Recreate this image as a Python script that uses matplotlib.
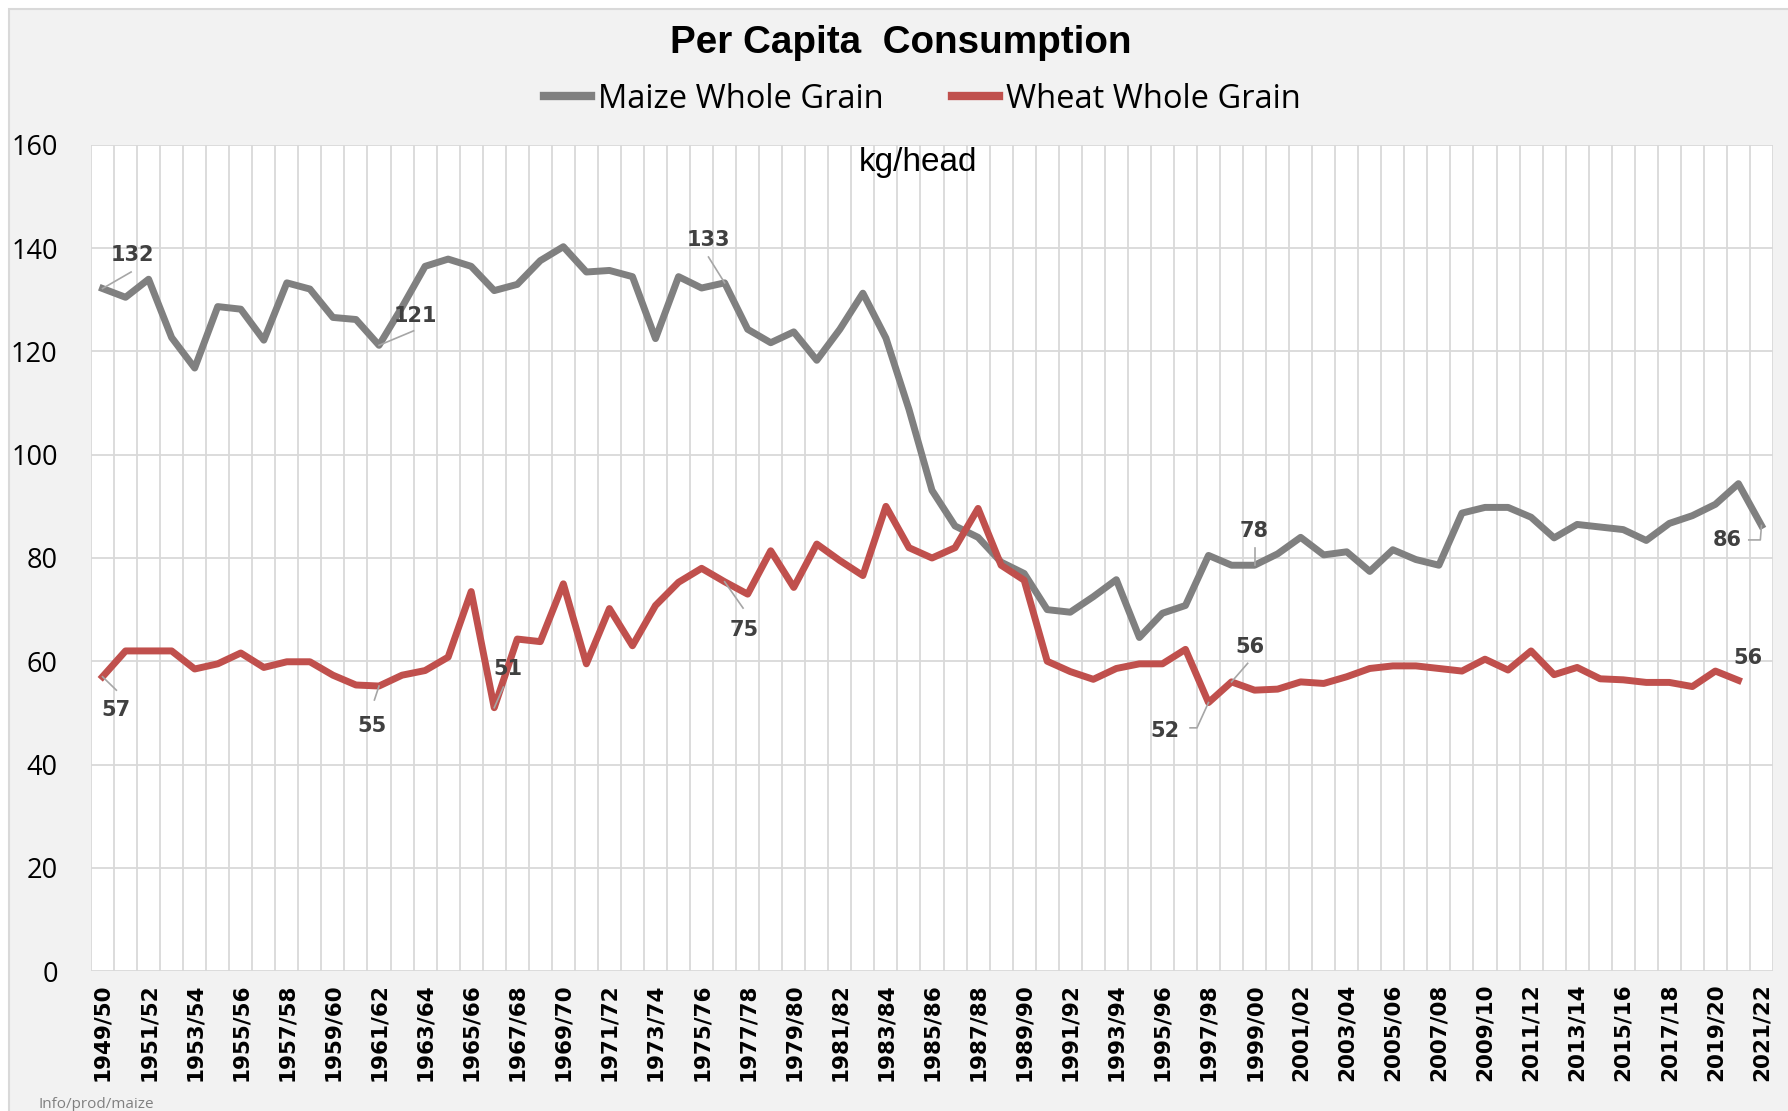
import matplotlib
matplotlib.use("Agg")
import matplotlib.pyplot as plt
from matplotlib.patches import Rectangle
from matplotlib.ticker import FixedLocator

# ---------------- data ----------------
seasons = [f"{y}/{(y + 1) % 100:02d}" for y in range(1949, 2022)]

maize = [132.2, 130.5, 134.0, 122.7, 116.8, 128.7, 128.2, 122.2, 133.3, 132.1,
         126.6, 126.2, 121.2, 128.6, 136.5, 137.9, 136.5, 131.8, 133.0, 137.6,
         140.3, 135.4, 135.7, 134.5, 122.5, 134.5, 132.3, 133.3, 124.3, 121.7,
         123.8, 118.3, 124.3, 131.3, 122.6, 108.8, 93.1, 86.2, 84.0, 79.2,
         77.0, 70.0, 69.5, 72.5, 75.8, 64.6, 69.3, 70.8, 80.5, 78.6,
         78.6, 80.8, 84.0, 80.6, 81.2, 77.4, 81.6, 79.7, 78.6, 88.7,
         89.8, 89.8, 87.9, 83.9, 86.5, 86.0, 85.5, 83.4, 86.7, 88.2,
         90.4, 94.4, 86.3]

wheat = [57.0, 62.0, 62.0, 62.0, 58.5, 59.5, 61.6, 58.8, 59.9, 59.9,
         57.3, 55.4, 55.2, 57.3, 58.2, 60.8, 73.5, 51.0, 64.3, 63.8,
         75.0, 59.5, 70.2, 63.0, 70.8, 75.3, 78.0, 75.4, 73.0, 81.4,
         74.3, 82.7, 79.5, 76.6, 90.0, 82.0, 80.0, 82.0, 89.6, 78.6,
         75.7, 60.0, 58.0, 56.5, 58.6, 59.5, 59.5, 62.3, 52.0, 56.0,
         54.4, 54.6, 56.0, 55.7, 57.0, 58.6, 59.1, 59.1, 58.6, 58.1,
         60.4, 58.3, 62.0, 57.4, 58.8, 56.6, 56.4, 55.9, 55.9, 55.1,
         58.1, 56.3]

series_names = ["Maize Whole Grain", "Wheat Whole Grain"]
y_ticks = [0, 20, 40, 60, 80, 100, 120, 140, 160]

# data labels: (index, text)
maize_labels = [(0, "132"), (12, "121"), (27, "133"), (50, "78"), (72, "86")]
wheat_labels = [(0, "57"), (12, "55"), (17, "51"), (27, "75"), (48, "52"), (49, "56"), (71, "56")]

# label text positions (index, value) and leader elbow points
maize_label_pos = {0: (1.28, 138.7), 12: (13.6, 126.9), 27: (26.3, 141.6), 50: (49.96, 85.2), 72: (70.5, 83.5)}
maize_leaders = {0: [(1.24, 135.4)], 12: [(13.5, 124.0)], 27: [(26.3, 138.3)], 50: [(50.0, 81.9)],
                 72: [(71.95, 83.5), (71.45, 83.5)]}
wheat_label_pos = {0: (0.59, 50.5), 12: (11.7, 47.4), 17: (17.6, 58.5), 27: (27.85, 66.0),
                   48: (46.1, 46.5), 49: (49.8, 62.8), 71: (71.4, 60.7)}
wheat_leaders = {0: [(0.6, 54.4)], 12: [(11.8, 52.5)], 17: [(17.4, 55.0)], 27: [(27.8, 70.3)],
                 48: [(47.5, 47.1), (47.2, 47.1)], 49: [(49.7, 59.6)], 71: []}

# ---------------- figure ----------------
W, H = 1788, 1111
fig = plt.figure(figsize=(W / 100, H / 100), dpi=100)
fig.patch.set_facecolor("white")
fig.patches.append(Rectangle((9 / W, -0.02), 1.05, 1 - 9 / H + 0.02, transform=fig.transFigure,
                             facecolor="#F2F2F2", edgecolor="#D9D9D9", linewidth=1.5, zorder=-10))

left, right, top, bottom = 91, 1773, 145, 971
ax = fig.add_axes([left / W, 1 - bottom / H, (right - left) / W, (bottom - top) / H])
ax.set_zorder(1)
ax.set_facecolor("white")

x = list(range(len(seasons)))
c_maize = "#808080"
c_wheat = "#C0504D"
lm, = ax.plot(x, maize, color=c_maize, lw=5.0, solid_joinstyle="round", zorder=3)
lw_, = ax.plot(x[:len(wheat)], wheat, color=c_wheat, lw=5.0, solid_joinstyle="round", zorder=4)

ax.set_xlim(-0.5, len(seasons) - 0.5)
ax.set_ylim(0, 160)
ax.yaxis.set_major_locator(FixedLocator(y_ticks))
ax.set_xticks(x[::2])
ax.set_xticklabels(seasons[::2], rotation=90, fontsize=15.5, fontweight="bold",
                   family="DejaVu Sans", color="black")
ax.xaxis.set_minor_locator(FixedLocator([i - 0.5 for i in range(len(seasons) + 1)]))
ax.tick_params(axis="x", which="both", length=0, pad=9)
ax.tick_params(axis="y", length=0, pad=24, labelsize=19.5)
for t in ax.get_yticklabels():
    t.set_family(["Open Sans", "DejaVu Sans"])
ax.grid(axis="y", which="major", color="#D9D9D9", lw=1.3, zorder=0)
ax.grid(axis="x", which="minor", color="#D9D9D9", lw=1.3, zorder=0)
ax.grid(axis="x", which="major", visible=False)
ax.set_axisbelow(True)
for s in ax.spines.values():
    s.set_visible(False)

# data labels
lab_kw = dict(fontsize=15, fontweight="bold", color="#404040", ha="center", va="center",
              family="DejaVu Sans", zorder=6)
lead_kw = dict(color="#A6A6A6", lw=1.2, zorder=5)
for (i, txt) in maize_labels:
    px, py = maize_label_pos[i]
    ax.text(px, py, txt, **lab_kw)
    pts = [(i, maize[i])] + maize_leaders[i]
    ax.plot([p[0] for p in pts], [p[1] for p in pts], **lead_kw)
for (i, txt) in wheat_labels:
    px, py = wheat_label_pos[i]
    ax.text(px, py, txt, **lab_kw)
    pts = [(i, wheat[i])] + wheat_leaders[i]
    if len(pts) > 1:
        ax.plot([p[0] for p in pts], [p[1] for p in pts], **lead_kw)

# kg/head
fig.text(918 / W, 1 - 162 / H, "kg/head", fontsize=24, family=["Liberation Sans", "DejaVu Sans"],
         ha="center", va="center", color="black", zorder=5)

# title
fig.text(901 / W, 1 - 43 / H, "Per Capita  Consumption", fontsize=27.8, fontweight="bold",
         family=["Liberation Sans", "DejaVu Sans"], ha="center", va="center", color="black")

# legend
leg = fig.legend([lm, lw_], series_names, loc="center", bbox_to_anchor=(922 / W, 1 - 99 / H),
                 ncol=2, frameon=False, handlelength=1.45, handletextpad=0.2, columnspacing=2.1,
                 prop={"family": ["Open Sans", "DejaVu Sans"], "size": 23.5})
for h in leg.get_lines():
    h.set_linewidth(6)

fig.text(38 / W, 1 - 1104 / H, "Info/prod/maize", fontsize=11, color="#808080",
         family=["Open Sans", "DejaVu Sans"], ha="left", va="center")

fig.savefig("out.png", dpi=100, facecolor=fig.get_facecolor())
